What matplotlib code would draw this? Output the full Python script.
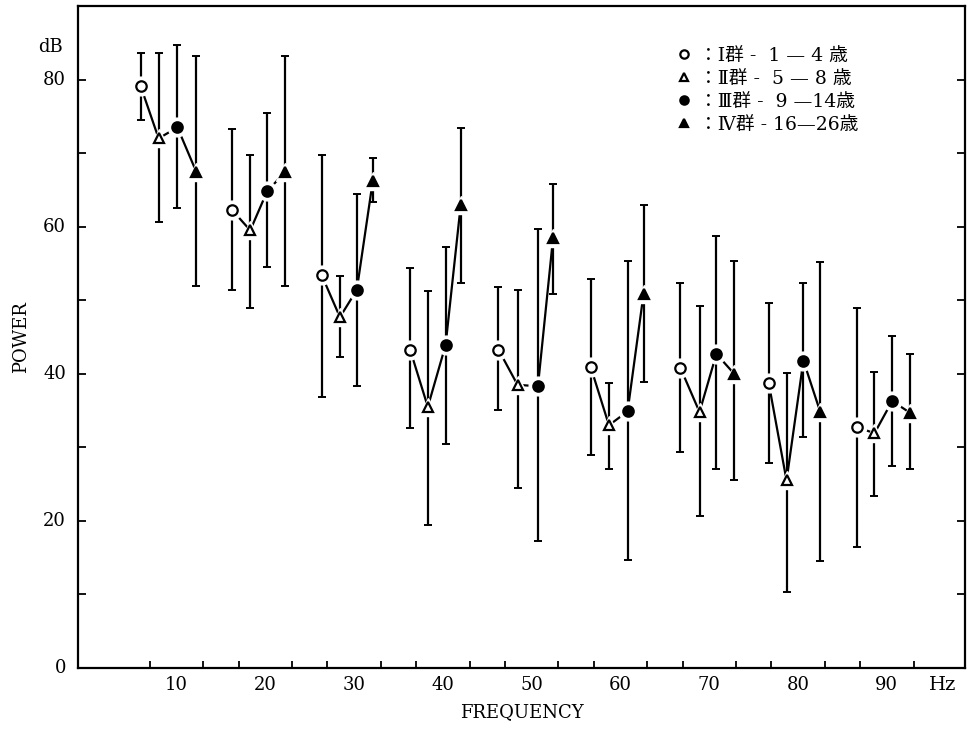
import matplotlib
matplotlib.use("Agg")
import matplotlib.pyplot as plt
import numpy as np

# ---------------- data ----------------
freq_labels = [10, 20, 30, 40, 50, 60, 70, 80, 90]
band_edges = [7, 13, 17, 23, 27, 33, 37, 43, 47, 53, 57, 63, 67, 73, 77, 83, 87, 93]

# x positions of each group's point within every frequency band
x_g1 = [5.96, 16.3, 26.35, 36.3, 46.25, 56.65, 66.75, 76.7, 86.6]
x_g2 = [7.98, 18.3, 28.4, 38.3, 48.4, 58.7, 68.9, 78.7, 88.6]
x_g3 = [10.1, 20.2, 30.3, 40.3, 50.7, 60.8, 70.8, 80.6, 90.6]
x_g4 = [12.24, 22.2, 32.1, 42.0, 52.4, 62.6, 72.8, 82.5, 92.6]

# mean power (dB)
m_g1 = [79.1, 62.2, 53.4, 43.3, 43.3, 40.9, 40.8, 38.7, 32.8]
m_g2 = [72.0, 59.5, 47.7, 35.5, 38.5, 33.0, 34.8, 25.5, 31.9]
m_g3 = [73.5, 64.8, 51.4, 43.9, 38.3, 34.9, 42.7, 41.8, 36.3]
m_g4 = [67.4, 67.4, 66.2, 62.9, 58.4, 50.9, 40.0, 34.8, 34.7]

# upper ends of the bars
hi_g1 = [83.6, 73.3, 69.8, 54.4, 51.8, 52.9, 52.3, 49.6, 49.0]
hi_g2 = [83.6, 69.8, 53.3, 51.3, 51.4, 38.8, 49.2, 40.1, 40.2]
hi_g3 = [84.7, 75.4, 64.4, 57.3, 59.7, 55.3, 58.7, 52.3, 45.2]
hi_g4 = [83.2, 83.2, 69.4, 73.4, 65.8, 62.9, 55.4, 55.2, 42.7]

# lower ends of the bars
lo_g1 = [74.5, 51.4, 36.8, 32.6, 35.1, 28.9, 29.4, 27.9, 16.5]
lo_g2 = [60.6, 48.9, 42.3, 19.5, 24.5, 27.0, 20.6, 10.4, 23.4]
lo_g3 = [62.5, 54.5, 38.4, 30.5, 17.2, 14.7, 27.0, 31.4, 27.4]
lo_g4 = [51.9, 51.9, 63.4, 52.3, 50.9, 38.9, 25.5, 14.5, 27.0]

legend_labels = ["：Ⅰ群 -  1 — 4 歳",
                 "：Ⅱ群 -  5 — 8 歳",
                 "：Ⅲ群 -  9 —14歳",
                 "：Ⅳ群 - 16—26歳"]
y_ticks = [10, 20, 30, 40, 50, 60, 70, 80]
y_labels = ["0", "20", "40", "60", "80"]

# ---------------- styling ----------------
SERIF = ["DejaVu Serif"]
CJK = ["DejaVu Serif", "Noto Sans CJK JP", "DejaVu Sans"]
plt.rcParams["font.family"] = SERIF

fig = plt.figure(figsize=(9.69, 7.31), dpi=100)
ax = fig.add_axes([78 / 969, (731 - 668) / 731, (965 - 78) / 969, (668 - 6) / 731])
ax.set_xlim(-1.1, 98.8)
ax.set_ylim(0, 90)

groups = [
    (x_g1, m_g1, hi_g1, lo_g1, dict(marker="o", mfc="white")),
    (x_g2, m_g2, hi_g2, lo_g2, dict(marker="^", mfc="white")),
    (x_g3, m_g3, hi_g3, lo_g3, dict(marker="o", mfc="black")),
    (x_g4, m_g4, hi_g4, lo_g4, dict(marker="^", mfc="black")),
]

# connecting polyline inside each frequency band
for i in range(len(freq_labels)):
    xs = [g[0][i] for g in groups]
    ys = [g[1][i] for g in groups]
    ax.plot(xs, ys, color="black", lw=1.6, zorder=2, solid_capstyle="butt")

handles = []
for x, m, hi, lo, st in groups:
    x = np.array(x); m = np.array(m); hi = np.array(hi); lo = np.array(lo)
    ax.errorbar(x, m, yerr=[m - lo, hi - m], fmt="none", ecolor="black",
                elinewidth=1.6, capsize=2.6, capthick=1.4, zorder=2)
    # white halo producing the gaps around the markers
    ax.plot(x, m, linestyle="none", marker=st["marker"], ms=13.5, color="white",
            mec="white", zorder=3)
    h, = ax.plot(x, m, linestyle="none", marker=st["marker"], ms=7.5,
                 mfc=st["mfc"], mec="black", mew=1.6, zorder=4)
    handles.append(h)

# axes frame
for s in ax.spines.values():
    s.set_linewidth(1.6)

ax.set_xticks(band_edges)
ax.set_xticklabels([])
ax.tick_params(axis="x", direction="in", length=5, width=1.3, top=False)
ax.set_yticks(y_ticks)
ax.set_yticklabels([])
ax.tick_params(axis="y", direction="in", length=6, width=1.3, right=True)

# tick labels as text in data coordinates
for f in freq_labels:
    ax.text(f, -1.1, str(f), ha="center", va="top", fontsize=13, clip_on=False)
ax.text(96.3, -1.1, "Hz", ha="center", va="top", fontsize=14, clip_on=False)
for v in y_labels:
    ax.text(-2.45, float(v), v, ha="right", va="center", fontsize=13, clip_on=False)
ax.text(-2.8, 84.4, "dB", ha="right", va="center", fontsize=13, clip_on=False)

ax.set_xlabel("FREQUENCY", fontsize=13, labelpad=22)
ax.set_ylabel("POWER", fontsize=13, labelpad=31)

leg = ax.legend(handles, legend_labels, loc="upper left",
                bbox_to_anchor=(0.655, 0.964), frameon=False,
                handlelength=0.9, handletextpad=0.35, labelspacing=0.27,
                prop={"family": CJK, "size": 13.5})
for h in leg.legend_handles:
    h.set_markersize(6)

fig.savefig("out.png", dpi=100)
